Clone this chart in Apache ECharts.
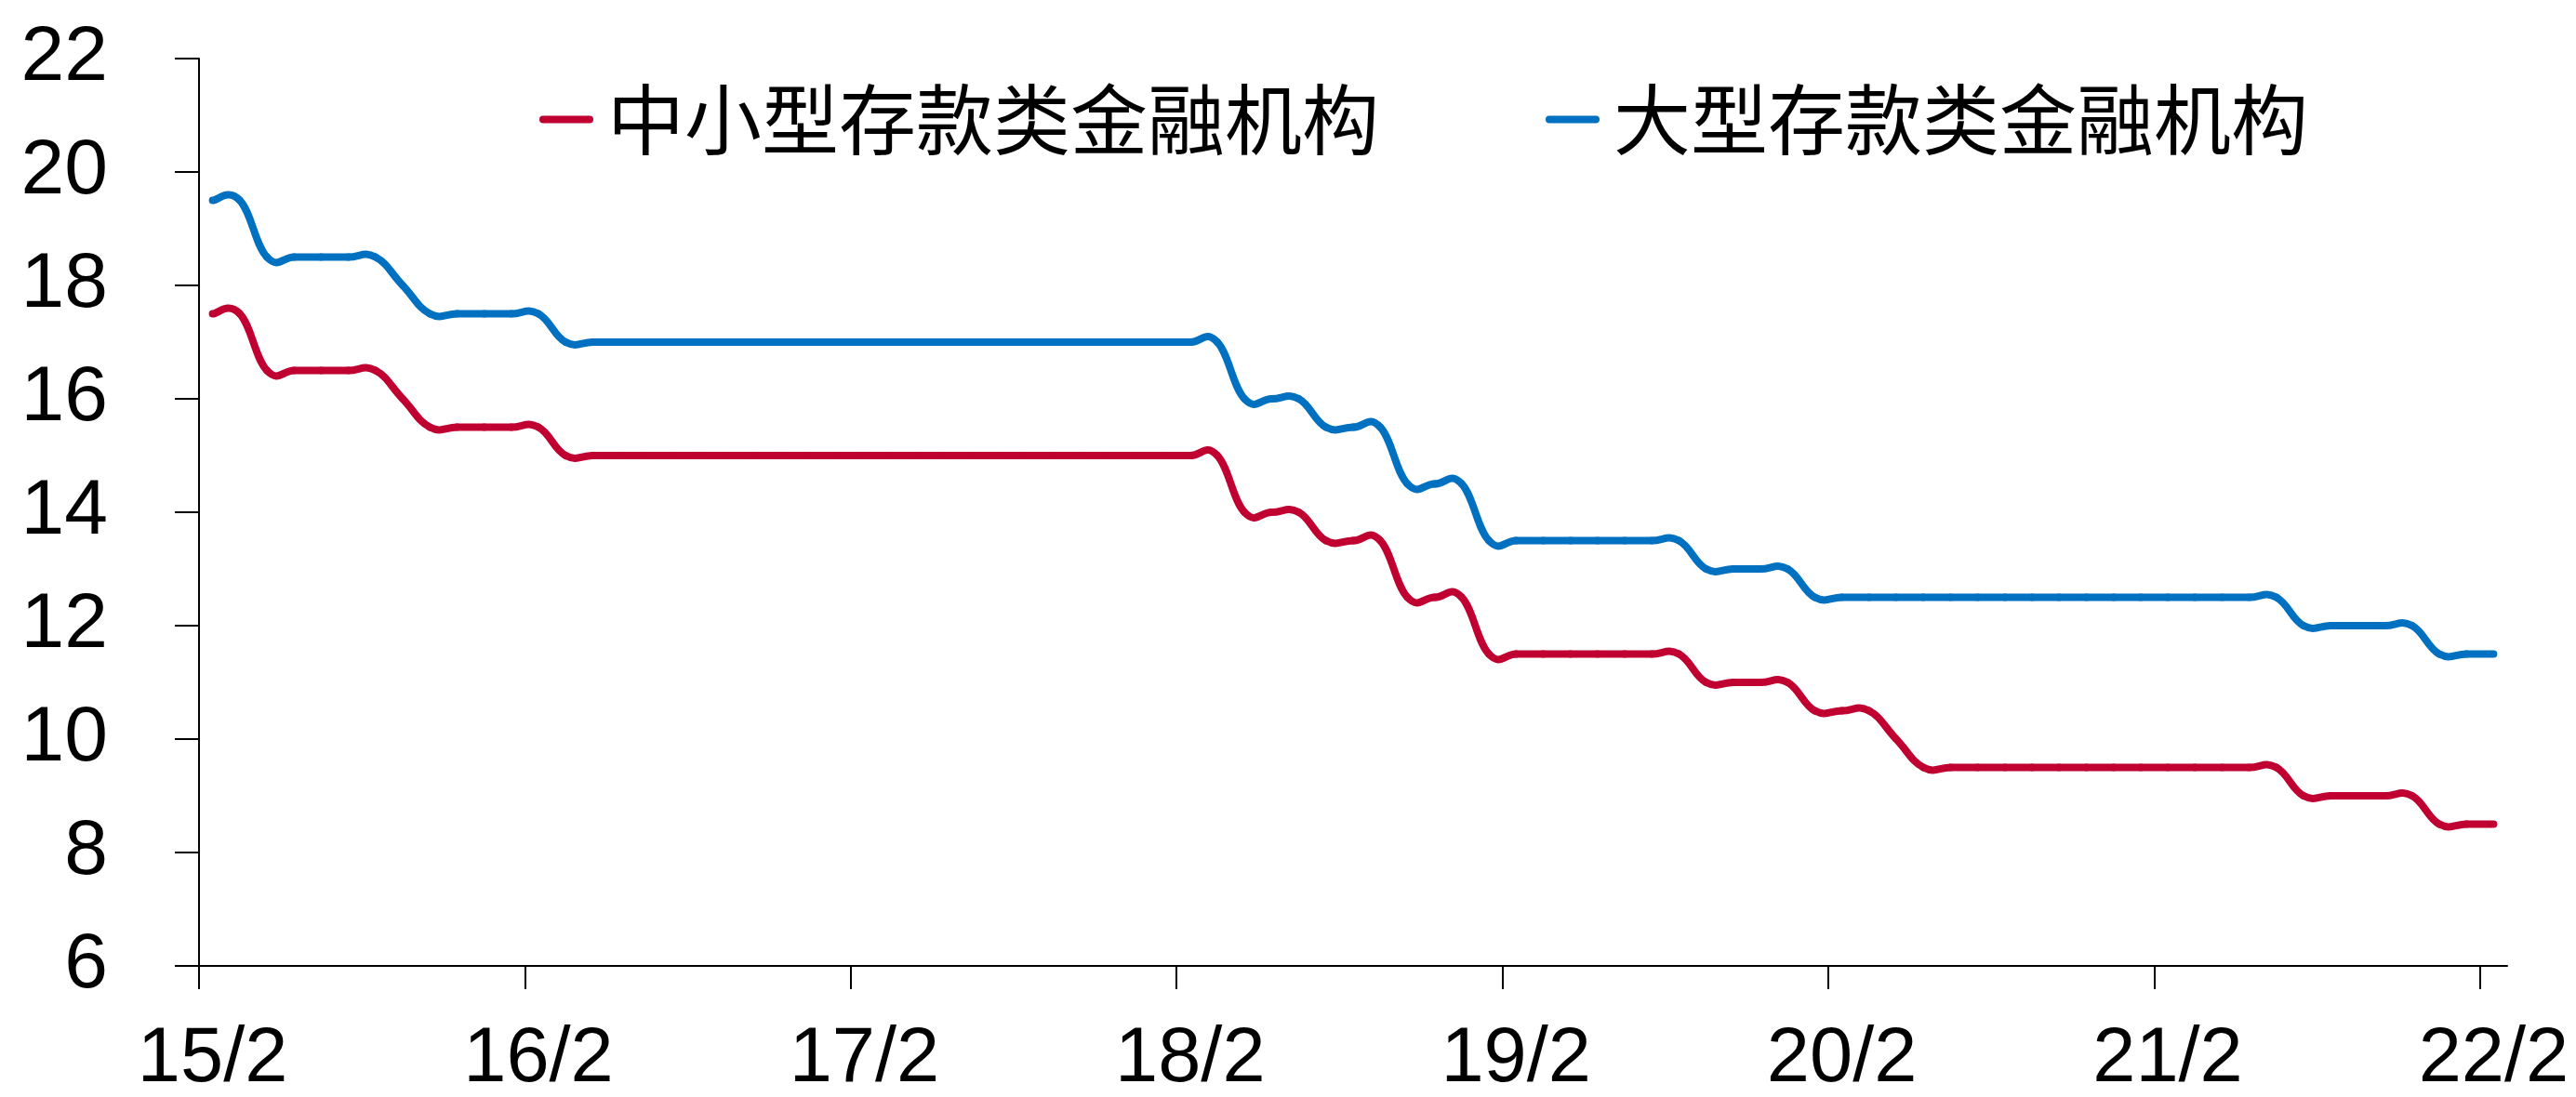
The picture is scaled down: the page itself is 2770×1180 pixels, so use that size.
<!DOCTYPE html>
<html>
<head>
<meta charset="utf-8">
<script src="https://cdn.jsdelivr.net/npm/echarts@6/dist/echarts.min.js"></script>
<style>
  html, body { margin: 0; padding: 0; background: #fff; }
  #chart { width: 2770px; height: 1180px; }
</style>
</head>
<body>
<div id="chart"></div>
<script>
// monthly, 2015/2 .. 2022/2
const startYear = 2015;
const startMonth = 2;
const xTickLabels = ["15/2", "16/2", "17/2", "18/2", "19/2", "20/2", "21/2", "22/2"];

const seriesNames = ["中小型存款类金融机构", "大型存款类金融机构"];

const smallBanks = [
  17.5, 17.5, 16.5, 16.5, 16.5, 16.5, 16.5, 16.0, 15.5, 15.5, 15.5,
  15.5, 15.5, 15.0, 15.0, 15.0, 15.0, 15.0, 15.0, 15.0, 15.0, 15.0, 15.0,
  15.0, 15.0, 15.0, 15.0, 15.0, 15.0, 15.0, 15.0, 15.0, 15.0, 15.0, 15.0,
  15.0, 15.0, 15.0, 14.0, 14.0, 14.0, 13.5, 13.5, 13.5, 12.5, 12.5, 12.5,
  11.5, 11.5, 11.5, 11.5, 11.5, 11.5, 11.5, 11.5, 11.0, 11.0, 11.0, 11.0,
  10.5, 10.5, 10.5, 10.0, 9.5, 9.5, 9.5, 9.5, 9.5, 9.5, 9.5, 9.5,
  9.5, 9.5, 9.5, 9.5, 9.5, 9.5, 9.0, 9.0, 9.0, 9.0, 9.0, 8.5,
  8.5, 8.5
];

const largeBanks = [
  19.5, 19.5, 18.5, 18.5, 18.5, 18.5, 18.5, 18.0, 17.5, 17.5, 17.5,
  17.5, 17.5, 17.0, 17.0, 17.0, 17.0, 17.0, 17.0, 17.0, 17.0, 17.0, 17.0,
  17.0, 17.0, 17.0, 17.0, 17.0, 17.0, 17.0, 17.0, 17.0, 17.0, 17.0, 17.0,
  17.0, 17.0, 17.0, 16.0, 16.0, 16.0, 15.5, 15.5, 15.5, 14.5, 14.5, 14.5,
  13.5, 13.5, 13.5, 13.5, 13.5, 13.5, 13.5, 13.5, 13.0, 13.0, 13.0, 13.0,
  12.5, 12.5, 12.5, 12.5, 12.5, 12.5, 12.5, 12.5, 12.5, 12.5, 12.5, 12.5,
  12.5, 12.5, 12.5, 12.5, 12.5, 12.5, 12.0, 12.0, 12.0, 12.0, 12.0, 11.5,
  11.5, 11.5
];

const months = largeBanks.map((_, i) => {
  const m = startMonth - 1 + i;
  return `${String(startYear + Math.floor(m / 12)).slice(2)}/${(m % 12) + 1}`;
});
const tickIdx = xTickLabels.map((t) => months.indexOf(t));

const RED = "#BF0030";
const BLUE = "#0070C0";
const numFont = "Liberation Sans, Arial, sans-serif";
const cjkFont = "Noto Sans CJK SC";
const TENSION = 0.22; // excel-like smoothed line, a little overshoot at the corners
const capsule = "path://M4,0H54A4,4,0,0,1,54,8H4A4,4,0,0,1,4,0Z";

// one cubic bezier per month, from point i to i+1, through the axis scales
function smoothLine(name, values, color) {
  const last = values.length - 1;
  return {
    name,
    type: "custom",
    color,
    itemStyle: { color },
    data: values.map((v, i) => [i, v]),
    encode: { x: 0, y: 1 },
    renderItem: (params, api) => {
      const i = params.dataIndex;
      if (i >= last) return null;
      const pt = (j) => {
        const k = Math.max(0, Math.min(last, j));
        return api.coord([k, values[k]]);
      };
      const p0 = pt(i - 1), p1 = pt(i), p2 = pt(i + 1), p3 = pt(i + 2);
      return {
        type: "bezierCurve",
        shape: {
          x1: p1[0], y1: p1[1],
          cpx1: p1[0] + (p2[0] - p0[0]) * TENSION,
          cpy1: p1[1] + (p2[1] - p0[1]) * TENSION,
          cpx2: p2[0] - (p3[0] - p1[0]) * TENSION,
          cpy2: p2[1] - (p3[1] - p1[1]) * TENSION,
          x2: p2[0], y2: p2[1],
        },
        style: { stroke: color, fill: null, lineWidth: 8, lineCap: "round", lineJoin: "round" },
        silent: true,
      };
    },
  };
}

const chart = echarts.init(document.getElementById("chart"));

chart.setOption({
  animation: false,
  backgroundColor: "#fff",
  legend: {
    left: 575,
    top: 82,
    itemWidth: 58,
    itemHeight: 8,
    itemGap: 179,
    data: seriesNames.map((name) => ({ name, icon: capsule })),
    textStyle: {
      fontFamily: cjkFont,
      fontSize: 83,
      color: "#000",
      padding: [0, 0, 0, 10],
    },
  },
  grid: {
    left: 214,
    right: 74,
    top: 63,
    bottom: 141,
    outerBoundsMode: "none",
  },
  xAxis: [
    {
      type: "category",
      data: months,
      boundaryGap: true,
      axisLine: { lineStyle: { color: "#000", width: 2 } },
      axisTick: { show: false },
      axisLabel: {
        interval: (i) => tickIdx.includes(i),
        margin: 60,
        fontFamily: numFont,
        fontSize: 83,
        color: "#000",
      },
      splitLine: { show: false },
    },
    {
      // only carries the yearly tick marks on the band edges
      type: "value",
      position: "bottom",
      min: 0,
      max: months.length,
      axisLine: { show: false },
      axisLabel: { show: false },
      axisTick: {
        show: true,
        length: 25,
        customValues: tickIdx,
        lineStyle: { color: "#000", width: 2 },
      },
      splitLine: { show: false },
    },
  ],
  yAxis: {
    type: "value",
    min: 6,
    max: 22,
    interval: 2,
    axisLine: { show: true, lineStyle: { color: "#000", width: 2 } },
    axisTick: { show: true, length: 26, lineStyle: { color: "#000", width: 2 } },
    axisLabel: {
      margin: 98,
      fontFamily: numFont,
      fontSize: 84,
      color: "#000",
    },
    splitLine: { show: false },
  },
  series: [
    smoothLine(seriesNames[0], smallBanks, RED),
    smoothLine(seriesNames[1], largeBanks, BLUE),
  ],
});
</script>
</body>
</html>
